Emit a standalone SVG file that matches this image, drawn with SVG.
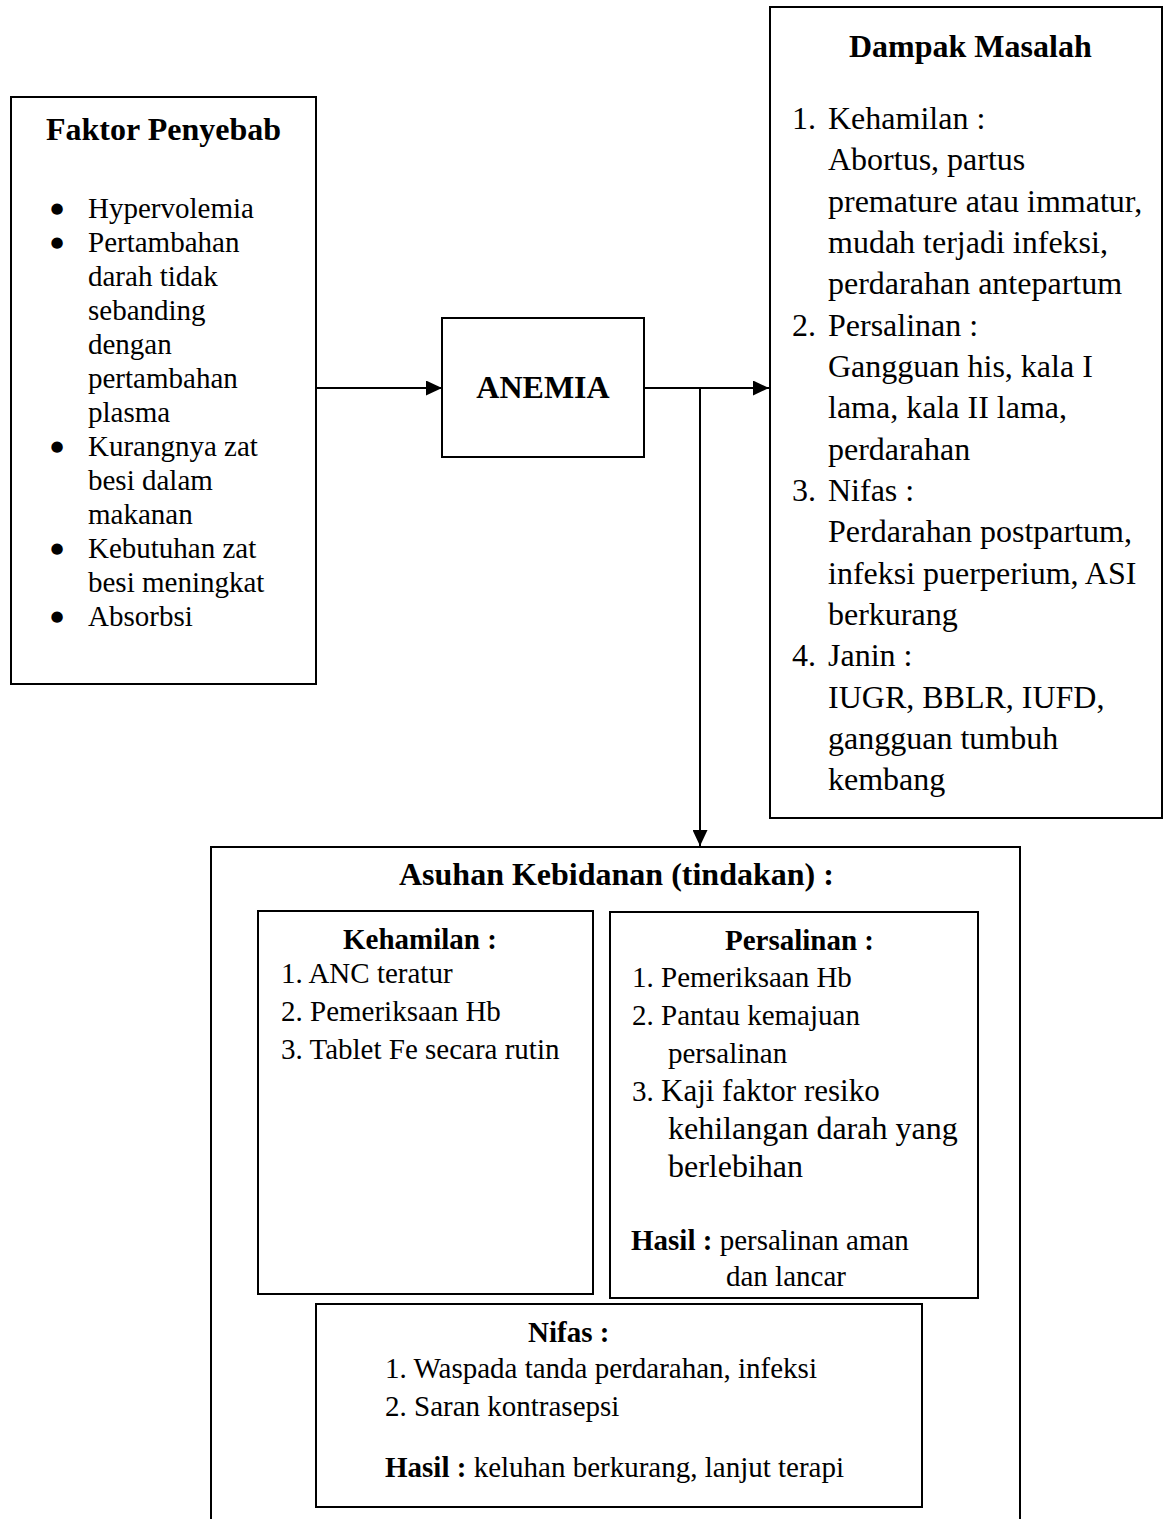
<svg xmlns="http://www.w3.org/2000/svg" width="1164" height="1519" viewBox="0 0 1164 1519">
<style>
text{font-family:"Liberation Serif","Times New Roman",serif;fill:#000}
.b{font-weight:bold}
.box{fill:#fff;stroke:#000;stroke-width:2}
.f29{font-size:29px}
.f32{font-size:32px}
.bul{font-family:"DejaVu Sans",sans-serif;font-size:15px;text-anchor:middle}
.con{fill:none;stroke:#000;stroke-width:2}
</style>
<defs>
<marker id="arr" viewBox="0 0 16 15" refX="16" refY="7.5" markerWidth="16" markerHeight="15" markerUnits="userSpaceOnUse" orient="auto">
<path d="M0,0 L16,7.5 L0,15 z" fill="#000"/>
</marker>
</defs>
<rect width="1164" height="1519" fill="#fff"/>

<g id="connectors">
<line class="con" x1="316" y1="388" x2="442" y2="388" marker-end="url(#arr)"/>
<line class="con" x1="644" y1="388" x2="769" y2="388" marker-end="url(#arr)"/>
<line class="con" x1="700" y1="388" x2="700" y2="846" marker-end="url(#arr)"/>
</g>

<g id="faktor">
<rect class="box" x="11" y="97" width="305" height="587"/>
<text class="b f32" x="46" y="140">Faktor Penyebab</text>
<g class="f29">
<text class="bul" x="57" y="213">●</text>
<text x="88" y="218">Hypervolemia</text>
<text class="bul" x="57" y="247">●</text>
<text x="88" y="252">Pertambahan</text>
<text x="88" y="286">darah tidak</text>
<text x="88" y="320">sebanding</text>
<text x="88" y="354">dengan</text>
<text x="88" y="388">pertambahan</text>
<text x="88" y="422">plasma</text>
<text class="bul" x="57" y="451">●</text>
<text x="88" y="456">Kurangnya zat</text>
<text x="88" y="490">besi dalam</text>
<text x="88" y="524">makanan</text>
<text class="bul" x="57" y="553">●</text>
<text x="88" y="558">Kebutuhan zat</text>
<text x="88" y="592">besi meningkat</text>
<text class="bul" x="57" y="621">●</text>
<text x="88" y="626">Absorbsi</text>
</g>
</g>

<g id="anemia">
<rect class="box" x="442" y="318" width="202" height="139"/>
<text class="b f32" x="543" y="398" text-anchor="middle">ANEMIA</text>
</g>

<g id="dampak">
<rect class="box" x="770" y="7" width="392" height="811"/>
<text class="b f32" x="849" y="57">Dampak Masalah</text>
<g class="f32">
<text x="792" y="129">1.</text><text x="828" y="129">Kehamilan :</text>
<text x="828" y="170">Abortus, partus</text>
<text x="828" y="212">premature atau immatur,</text>
<text x="828" y="253">mudah terjadi infeksi,</text>
<text x="828" y="294">perdarahan antepartum</text>
<text x="792" y="336">2.</text><text x="828" y="336">Persalinan :</text>
<text x="828" y="377">Gangguan his, kala I</text>
<text x="828" y="418">lama, kala II lama,</text>
<text x="828" y="460">perdarahan</text>
<text x="792" y="501">3.</text><text x="828" y="501">Nifas :</text>
<text x="828" y="542">Perdarahan postpartum,</text>
<text x="828" y="584">infeksi puerperium, ASI</text>
<text x="828" y="625">berkurang</text>
<text x="792" y="666">4.</text><text x="828" y="666">Janin :</text>
<text x="828" y="708">IUGR, BBLR, IUFD,</text>
<text x="828" y="749">gangguan tumbuh</text>
<text x="828" y="790">kembang</text>
</g>
</g>

<g id="asuhan">
<rect class="box" x="211" y="847" width="809" height="700"/>
<text class="b f32" x="399" y="885">Asuhan Kebidanan (tindakan) :</text>
</g>

<g id="kehamilan">
<rect class="box" x="258" y="911" width="335" height="383"/>
<g class="f29">
<text class="b" x="343" y="949">Kehamilan :</text>
<text x="281" y="983">1. ANC teratur</text>
<text x="281" y="1021">2. Pemeriksaan Hb</text>
<text x="281" y="1059">3. Tablet Fe secara rutin</text>
</g>
</g>

<g id="persalinan">
<rect class="box" x="610" y="912" width="368" height="386"/>
<g class="f29">
<text class="b" x="725" y="950">Persalinan :</text>
<text x="632" y="987">1. Pemeriksaan Hb</text>
<text x="632" y="1025">2. Pantau kemajuan</text>
<text x="668" y="1063">persalinan</text>
<text x="632" y="1101">3. <tspan font-size="31">Kaji faktor resiko</tspan></text>
<text x="668" y="1139" font-size="32">kehilangan darah yang</text>
<text x="668" y="1177" font-size="32">berlebihan</text>
<text x="631" y="1250"><tspan class="b">Hasil :</tspan> persalinan aman</text>
<text x="726" y="1286">dan lancar</text>
</g>
</g>

<g id="nifas">
<rect class="box" x="316" y="1304" width="606" height="203"/>
<g class="f29">
<text class="b" x="528" y="1342">Nifas :</text>
<text x="385" y="1378">1. Waspada tanda perdarahan, infeksi</text>
<text x="385" y="1416">2. Saran kontrasepsi</text>
<text x="385" y="1477"><tspan class="b">Hasil :</tspan> keluhan berkurang, lanjut terapi</text>
</g>
</g>
</svg>
